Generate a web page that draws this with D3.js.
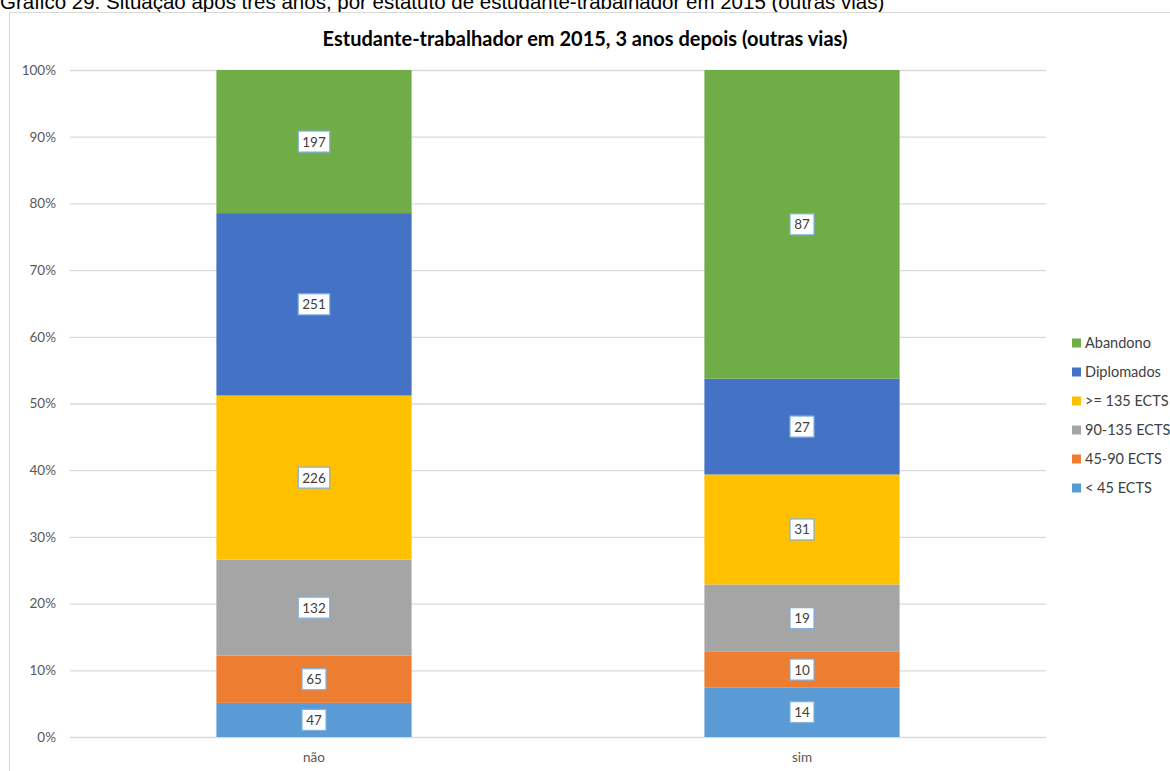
<!DOCTYPE html>
<html>
<head>
<meta charset="utf-8">
<script src="https://cdn.jsdelivr.net/npm/d3@7"></script>
<style>
  body { margin: 0; background: #fff; }
  svg { display: block; }
</style>
</head>
<body>
<div id="chart"></div>
<script>
// categories and series (counts shown in the labels)
var categories = ["não", "sim"];
var seriesNames = ["< 45 ECTS", "45-90 ECTS", "90-135 ECTS", ">= 135 ECTS", "Diplomados", "Abandono"];
var seriesColors = ["#5b9bd5", "#ed7d31", "#a5a5a5", "#ffc000", "#4472c4", "#70ad47"];
var valuesNao = [47, 65, 132, 226, 251, 197];
var valuesSim = [14, 10, 19, 31, 27, 87];
var yTicks = [0, 0.1, 0.2, 0.3, 0.4, 0.5, 0.6, 0.7, 0.8, 0.9, 1];

var width = 1170, height = 771;
var margin = { top: 70, right: 124, bottom: 34, left: 70 };

var svg = d3.select("#chart").append("svg")
    .attr("width", width)
    .attr("height", height);

// caption above the chart box (its top is cut off by the page edge)
svg.append("text")
    .attr("x", 0)
    .attr("y", 8.5)
    .attr("font-family", "Liberation Sans, Arial, sans-serif")
    .attr("font-size", 20.5)
    .attr("fill", "#000")
    .text("Gráfico 29: Situação após três anos, por estatuto de estudante-trabalhador em 2015 (outras vias)");

// chart frame
svg.append("rect")
    .attr("x", 9.5)
    .attr("y", 12.5)
    .attr("width", 1170)
    .attr("height", 800)
    .attr("fill", "#fff")
    .attr("stroke", "#d9d9d9");

svg.append("text")
    .attr("x", 585)
    .attr("y", 46)
    .attr("text-anchor", "middle")
    .attr("font-family", "Lato, 'Open Sans', sans-serif")
    .attr("font-weight", "bold")
    .attr("font-size", 20)
    .attr("fill", "#000")
    .text("Estudante-trabalhador em 2015, 3 anos depois (outras vias)");

var rows = [valuesNao, valuesSim].map(function(vals, i) {
    var total = d3.sum(vals);
    var row = { cat: categories[i] };
    seriesNames.forEach(function(s, j) { row[s] = vals[j] / total; row[s + "_n"] = vals[j]; });
    return row;
});

var x = d3.scaleBand()
    .domain(categories)
    .range([margin.left, width - margin.right])
    .paddingInner(0.6)
    .paddingOuter(0.3);

var y = d3.scaleLinear()
    .domain([0, 1])
    .range([height - margin.bottom, margin.top]);

// gridlines + y axis
var yAxis = d3.axisLeft(y)
    .tickValues(yTicks)
    .tickSize(-(width - margin.right - margin.left))
    .tickFormat(d3.format(".0%"));

var gy = svg.append("g")
    .attr("transform", "translate(" + margin.left + ",0)")
    .call(yAxis);
gy.select(".domain").remove();
gy.selectAll("line").attr("stroke", "#d9d9d9").attr("stroke-width", 1.3);
gy.selectAll("text")
    .attr("x", -14)
    .attr("font-family", "Lato, 'Open Sans', sans-serif")
    .attr("font-size", 13.5)
    .attr("fill", "#595959");

var gx = svg.append("g")
    .attr("transform", "translate(0," + (height - margin.bottom) + ")")
    .call(d3.axisBottom(x).tickSize(0).tickPadding(15));
gx.select(".domain").remove();
gx.selectAll("text")
    .attr("font-family", "Lato, 'Open Sans', sans-serif")
    .attr("font-size", 13.5)
    .attr("fill", "#595959");

var stack = d3.stack().keys(seriesNames);
var layers = stack(rows);

var layerG = svg.selectAll(".layer")
    .data(layers)
    .enter().append("g")
    .attr("fill", function(d, i) { return seriesColors[i]; });

layerG.selectAll("rect")
    .data(function(d) { return d; })
    .enter().append("rect")
    .attr("x", function(d) { return x(d.data.cat); })
    .attr("width", x.bandwidth())
    .attr("y", function(d) { return y(d[1]); })
    .attr("height", function(d) { return y(d[0]) - y(d[1]); });

// value labels
layers.forEach(function(layer) {
    layer.forEach(function(d) {
        var n = d.data[layer.key + "_n"];
        var cx = x(d.data.cat) + x.bandwidth() / 2;
        var cy = (y(d[0]) + y(d[1])) / 2;
        var w = String(n).length * 7.5 + 9;
        var g = svg.append("g");
        g.append("rect")
            .attr("x", cx - w / 2)
            .attr("y", cy - 10.5)
            .attr("width", w)
            .attr("height", 21)
            .attr("fill", "#fff")
            .attr("stroke", "#7fb0e0")
            .attr("stroke-width", 1.2);
        g.append("text")
            .attr("x", cx)
            .attr("y", cy + 5)
            .attr("text-anchor", "middle")
            .attr("font-family", "Lato, 'Open Sans', sans-serif")
            .attr("font-size", 13.5)
            .attr("fill", "#404040")
            .text(n);
    });
});

// legend, top entry is the last series
var legend = svg.append("g")
    .attr("transform", "translate(1072,343)");
var legendItems = seriesNames.slice().reverse();
legendItems.forEach(function(name, i) {
    var idx = seriesNames.indexOf(name);
    var g = legend.append("g").attr("transform", "translate(0," + (i * 29) + ")");
    g.append("rect")
        .attr("x", 0).attr("y", -4.5)
        .attr("width", 9).attr("height", 9)
        .attr("fill", seriesColors[idx]);
    g.append("text")
        .attr("x", 13)
        .attr("y", 5)
        .attr("font-family", "Lato, 'Open Sans', sans-serif")
        .attr("font-size", 14.5)
        .attr("fill", "#404040")
        .text(name);
});
</script>
</body>
</html>
